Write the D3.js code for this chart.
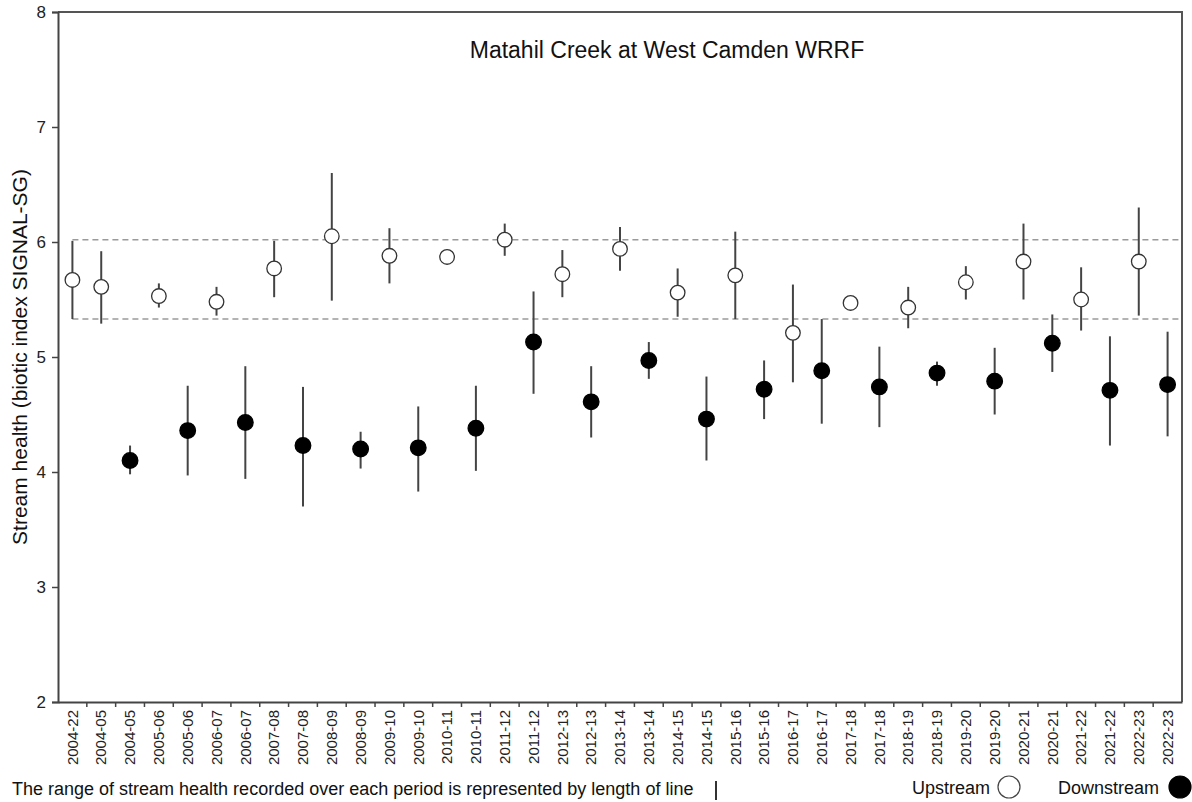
<!DOCTYPE html>
<html>
<head>
<meta charset="utf-8">
<script src="https://cdn.jsdelivr.net/npm/d3@7/dist/d3.min.js"></script>
<style>
  html, body { margin: 0; padding: 0; background: #fff; }
  svg { display: block; font-family: "Liberation Sans", Arial, sans-serif; }
</style>
</head>
<body>
<svg id="chart" width="1192" height="802"></svg>
<script>
// ---- data ----
const categories = ["2004-22","2004-05","2004-05","2005-06","2005-06","2006-07","2006-07","2007-08","2007-08","2008-09","2008-09","2009-10","2009-10","2010-11","2010-11","2011-12","2011-12","2012-13","2012-13","2013-14","2013-14","2014-15","2014-15","2015-16","2015-16","2016-17","2016-17","2017-18","2017-18","2018-19","2018-19","2019-20","2019-20","2020-21","2020-21","2021-22","2021-22","2022-23","2022-23"];
const sites = ["Upstream","Upstream","Downstream","Upstream","Downstream","Upstream","Downstream","Upstream","Downstream","Upstream","Downstream","Upstream","Downstream","Upstream","Downstream","Upstream","Downstream","Upstream","Downstream","Upstream","Downstream","Upstream","Downstream","Upstream","Downstream","Upstream","Downstream","Upstream","Downstream","Upstream","Downstream","Upstream","Downstream","Upstream","Downstream","Upstream","Downstream","Upstream","Downstream"];
const means = [5.67, 5.61,4.10, 5.53,4.36, 5.48,4.43, 5.77,4.23, 6.05,4.20, 5.88,4.21, 5.87,4.38, 6.02,5.13, 5.72,4.61, 5.94,4.97, 5.56,4.46, 5.71,4.72, 5.21,4.88, 5.47,4.74, 5.43,4.86, 5.65,4.79, 5.83,5.12, 5.50,4.71, 5.83,4.76];
const mins  = [5.33, 5.29,3.98, 5.43,3.97, 5.36,3.94, 5.52,3.70, 5.49,4.03, 5.64,3.83, null,4.01, 5.88,4.68, 5.52,4.30, 5.75,4.81, 5.35,4.10, 5.33,4.46, 4.78,4.42, null,4.39, 5.25,4.75, 5.50,4.50, 5.50,4.87, 5.23,4.23, 5.36,4.31];
const maxs  = [6.01, 5.92,4.23, 5.64,4.75, 5.61,4.92, 6.01,4.74, 6.60,4.35, 6.12,4.57, null,4.75, 6.16,5.57, 5.93,4.92, 6.13,5.13, 5.77,4.83, 6.09,4.97, 5.63,5.33, null,5.09, 5.61,4.96, 5.79,5.08, 6.16,5.37, 5.78,5.18, 6.30,5.22];
const refLines = [6.02, 5.33];
const yTicks = [2, 3, 4, 5, 6, 7, 8];
const titleText = "Matahil Creek at West Camden WRRF";
const yLabel = "Stream health (biotic index SIGNAL-SG)";
const caption = "The range of stream health recorded over each period is represented by length of line";
const legendItems = ["Upstream", "Downstream"];

// ---- layout ----
const svg = d3.select("#chart");
const pL = 58, pR = 1182, pT = 12, pB = 702;
const idx = categories.map((c, i) => i);
const x = d3.scaleBand().domain(idx).range([pL, pR]).padding(0);
const y = d3.scaleLinear().domain([2, 8]).range([pB, pT]);
const cx = i => x(i) + x.bandwidth() / 2;

const data = idx.map(i => ({i, cat: categories[i], site: sites[i], mean: means[i], min: mins[i], max: maxs[i]}));

// frame (top & right)
svg.append("path")
  .attr("d", `M${pL},${pT}H${pR}V${pB}`)
  .attr("fill", "none").attr("stroke", "#555").attr("stroke-width", 2);

// reference dashed lines
svg.append("g").selectAll("line").data(refLines).join("line")
  .attr("x1", cx(0)).attr("x2", pR)
  .attr("y1", d => y(d)).attr("y2", d => y(d))
  .attr("stroke", "#9a9a9a").attr("stroke-width", 1.6)
  .attr("stroke-dasharray", "6,4");

// y axis
const yAxis = svg.append("g").attr("transform", `translate(${pL},0)`)
  .call(d3.axisLeft(y).tickValues(yTicks).tickFormat(d3.format("d")).tickSize(6).tickPadding(6));
yAxis.select(".domain").attr("stroke", "#444").attr("stroke-width", 2);
yAxis.selectAll(".tick line").attr("stroke", "#444").attr("stroke-width", 1.5);
yAxis.selectAll(".tick text").attr("font-size", 17).attr("fill", "#222")
  .attr("font-family", "Liberation Sans, Arial, sans-serif");

// x axis
const xAxis = svg.append("g").attr("transform", `translate(0,${pB})`)
  .call(d3.axisBottom(x).tickFormat(i => categories[i]).tickSize(0).tickPadding(0));
xAxis.select(".domain").attr("stroke", "#444").attr("stroke-width", 2);
xAxis.selectAll(".tick text")
  .attr("font-size", 15).attr("fill", "#222")
  .attr("font-family", "Liberation Sans, Arial, sans-serif")
  .attr("text-anchor", "end")
  .attr("dy", "0.35em")
  .attr("transform", "translate(0,8) rotate(-90)")
  .attr("x", 0).attr("y", 0);
// boundary tick marks
svg.append("g").selectAll("line").data(idx.slice(1)).join("line")
  .attr("x1", i => x(i)).attr("x2", i => x(i))
  .attr("y1", pB).attr("y2", pB + 5)
  .attr("stroke", "#444").attr("stroke-width", 1.5);

// error bars
svg.append("g").selectAll("line").data(data.filter(d => d.min != null && d.max != null)).join("line")
  .attr("x1", d => cx(d.i)).attr("x2", d => cx(d.i))
  .attr("y1", d => y(d.max)).attr("y2", d => y(d.min))
  .attr("stroke", "#444").attr("stroke-width", 2);

// points
svg.append("g").selectAll("circle").data(data).join("circle")
  .attr("cx", d => cx(d.i)).attr("cy", d => y(d.mean))
  .attr("r", d => d.site === "Upstream" ? 7.3 : 7.8)
  .attr("fill", d => d.site === "Upstream" ? "#fff" : "#000")
  .attr("stroke", d => d.site === "Upstream" ? "#333" : "#000")
  .attr("stroke-width", 1.3);

// title
svg.append("text").attr("x", 667).attr("y", 58).attr("text-anchor", "middle")
  .attr("font-size", 23).attr("fill", "#111").text(titleText);

// y label
svg.append("text").attr("transform", `translate(27,${(pT + pB) / 2}) rotate(-90)`)
  .attr("text-anchor", "middle").attr("font-size", 21).attr("fill", "#111").text(yLabel);

// caption
svg.append("text").attr("x", 12).attr("y", 795).attr("font-size", 18).attr("fill", "#111").text(caption);
svg.append("line").attr("x1", 716).attr("x2", 716).attr("y1", 781).attr("y2", 800)
  .attr("stroke", "#333").attr("stroke-width", 2);

// legend
const legX = [912, 1058];
const legG = svg.append("g").selectAll("g").data(legendItems).join("g");
legG.append("text").attr("x", (d, i) => legX[i]).attr("y", 794).attr("font-size", 18).attr("fill", "#111").text(d => d);
legG.append("circle")
  .attr("cx", (d, i) => i === 0 ? 1009 : 1180).attr("cy", 787).attr("r", 11)
  .attr("fill", (d, i) => i === 0 ? "#fff" : "#000")
  .attr("stroke", (d, i) => i === 0 ? "#444" : "#000").attr("stroke-width", 1.2);
</script>
</body>
</html>
